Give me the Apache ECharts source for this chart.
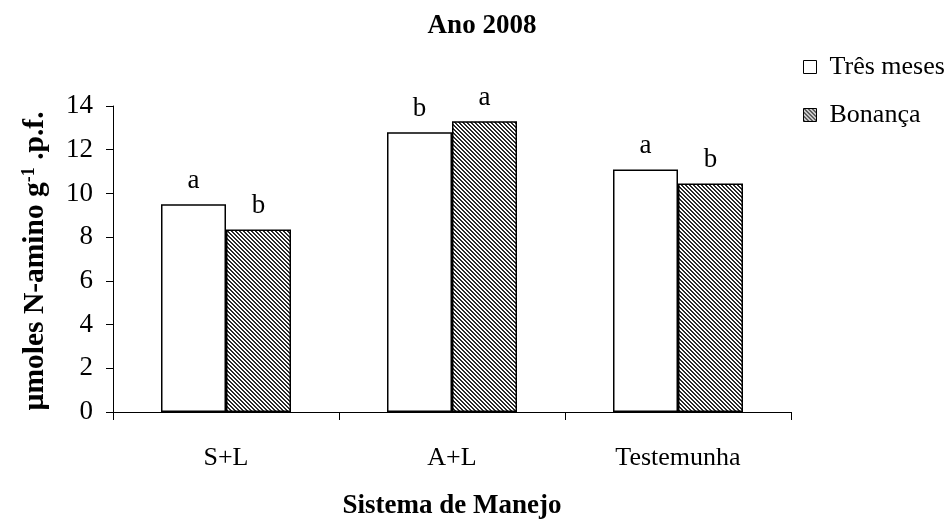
<!DOCTYPE html>
<html>
<head>
<meta charset="utf-8">
<script src="https://cdn.jsdelivr.net/npm/echarts@6/dist/echarts.min.js"></script>
<style>
html,body{margin:0;padding:0;background:#fff;}
#chart{width:950px;height:520px;}
</style>
</head>
<body>
<div id="chart"></div>
<script>
var categories = ['S+L', 'A+L', 'Testemunha'];
var seriesNames = ['Três meses', 'Bonança'];
var tresMeses = [9.5, 12.8, 11.1];
var bonanca = [8.35, 13.3, 10.45];
var lettersTres = ['a', 'b', 'a'];
var lettersBonanca = ['b', 'a', 'b'];
var yTicks = [0, 2, 4, 6, 8, 10, 12, 14];

var FONT = 'Liberation Serif';

function hatch() {
  var c = document.createElement('canvas');
  c.width = 4; c.height = 4;
  var ctx = c.getContext('2d');
  ctx.fillStyle = '#ffffff';
  ctx.fillRect(0, 0, 4, 4);
  ctx.fillStyle = '#2a2a2a';
  for (var y = 0; y < 4; y++) {
    for (var x = 0; x < 4; x++) {
      var d = ((x - y) % 4 + 4) % 4;
      if (d === 0 || d === 1) ctx.fillRect(x, y, 1, 1);
    }
  }
  return c;
}
var pattern = { image: hatch(), repeat: 'repeat' };

var chart = echarts.init(document.getElementById('chart'), null, { renderer: 'canvas' });

function letterLabel(arr) {
  return {
    show: true,
    position: 'top',
    distance: 10,
    fontFamily: FONT,
    fontSize: 27,
    color: '#000',
    formatter: function (p) { return arr[p.dataIndex]; }
  };
}

var option = {
  animation: false,
  backgroundColor: '#fff',
  title: {
    text: 'Ano 2008',
    left: 477,
    top: 8,
    textAlign: 'center',
    textStyle: { fontFamily: FONT, fontSize: 27, fontWeight: 'bold', color: '#000' }
  },
  legend: {
    orient: 'vertical',
    left: 803,
    top: 54,
    padding: 0,
    itemWidth: 13,
    itemHeight: 13,
    itemGap: 22,
    icon: 'rect',
    data: seriesNames,
    itemStyle: { borderColor: '#000', borderWidth: 1 },
    textStyle: { fontFamily: FONT, fontSize: 26, color: '#000', padding: [0, 0, 0, 8] }
  },
  grid: { left: 113, right: 159, top: 106, bottom: 108, containLabel: false, outerBoundsMode: 'none' },
  xAxis: {
    type: 'category',
    data: categories,
    axisLine: { lineStyle: { color: '#000', width: 1 } },
    axisTick: { show: true, length: 8, lineStyle: { color: '#000' } },
    axisLabel: { fontFamily: FONT, fontSize: 26, color: '#000', margin: 33 },
    name: 'Sistema de Manejo',
    nameLocation: 'middle',
    nameGap: 81,
    nameTextStyle: { fontFamily: FONT, fontSize: 27, fontWeight: 'bold', color: '#000' }
  },
  yAxis: {
    type: 'value',
    min: yTicks[0],
    max: yTicks[yTicks.length - 1],
    interval: yTicks[1] - yTicks[0],
    splitLine: { show: false },
    axisLine: { show: true, lineStyle: { color: '#000', width: 1 } },
    axisTick: { show: true, length: 7, lineStyle: { color: '#000' } },
    axisLabel: { fontFamily: FONT, fontSize: 27, color: '#000', margin: 20 },
    name: '{b|µmoles N-amino g}{s|-1}{b| .p.f.}',
    nameLocation: 'middle',
    nameGap: 62,
    nameTextStyle: {
      fontFamily: FONT, fontSize: 29.5, fontWeight: 'bold', color: '#000',
      padding: [0, 4, 0, 0],
      rich: {
        b: { fontFamily: FONT, fontSize: 29.5, fontWeight: 'bold', color: '#000', lineHeight: 31 },
        s: { fontFamily: FONT, fontSize: 18, fontWeight: 'bold', color: '#000', verticalAlign: 'top', lineHeight: 31 }
      }
    }
  },
  series: [
    {
      name: seriesNames[0],
      type: 'bar',
      data: tresMeses,
      barWidth: 65,
      barGap: '0%',
      itemStyle: { color: '#ffffff', borderColor: '#000', borderWidth: 1.5 },
      label: letterLabel(lettersTres)
    },
    {
      name: seriesNames[1],
      type: 'bar',
      data: bonanca,
      barWidth: 65,
      barGap: '0%',
      itemStyle: { color: pattern, borderColor: '#000', borderWidth: 1.5 },
      label: letterLabel(lettersBonanca)
    }
  ]
};
chart.setOption(option);
</script>
</body>
</html>
